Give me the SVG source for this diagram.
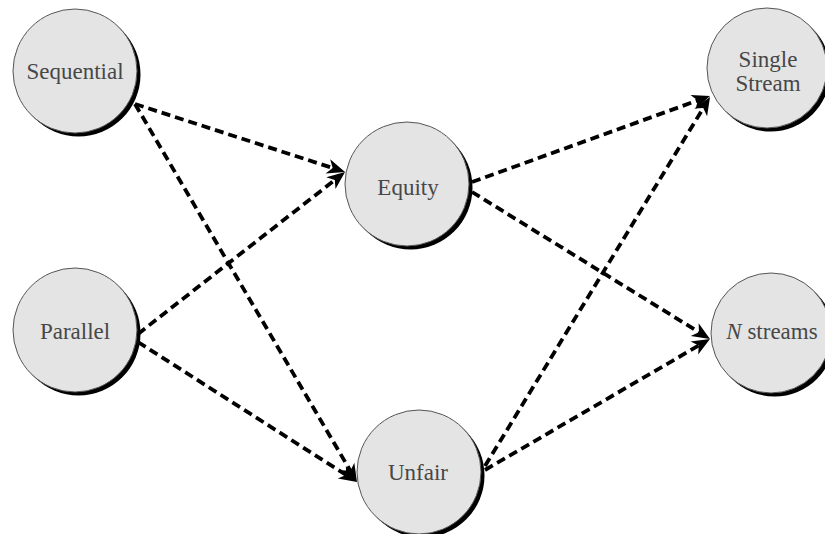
<svg xmlns="http://www.w3.org/2000/svg" width="825" height="534" viewBox="0 0 825 534">
<defs>
<style>
.shadow{fill:#000}
.node{fill:#e4e4e4;stroke:#555;stroke-width:1}
.label{font-family:"Liberation Serif","Times New Roman",serif;font-size:23px;fill:#474747;text-anchor:middle}
.edge{stroke:#000;stroke-width:3.8;stroke-dasharray:9 5;fill:none;marker-end:url(#arrow)}
</style>
<marker id="arrow" markerUnits="userSpaceOnUse" viewBox="-8 -9 21 18" markerWidth="21" markerHeight="18" refX="0" refY="0" orient="auto">
<path d="M12,0 L-6,-7.5 L-1,0 L-6,7.5 Z" fill="#000"/>
</marker>
</defs>
<rect width="825" height="534" fill="#fff"/>
<g id="connectors">
<line class="edge" x1="135" y1="104" x2="333.6" y2="168.3"/>
<line class="edge" x1="135" y1="104" x2="350.9" y2="471.7"/>
<line class="edge" x1="138" y1="334" x2="335.6" y2="179.4"/>
<line class="edge" x1="138" y1="342" x2="346.9" y2="475.5"/>
<line class="edge" x1="472" y1="182" x2="698.7" y2="100.1"/>
<line class="edge" x1="472" y1="192" x2="699.8" y2="332.7"/>
<line class="edge" x1="485" y1="466" x2="703.8" y2="107.2"/>
<line class="edge" x1="485" y1="470" x2="699.6" y2="345.0"/>
</g>
<g id="sequential">
<circle class="shadow" cx="78.5" cy="74.5" r="62"/>
<circle class="node" cx="75" cy="71" r="62"/>
<text class="label" x="75" y="79">Sequential</text>
</g>
<g id="parallel">
<circle class="shadow" cx="78.5" cy="333.5" r="62"/>
<circle class="node" cx="75" cy="330" r="62"/>
<text class="label" x="75" y="339">Parallel</text>
</g>
<g id="equity">
<circle class="shadow" cx="410.5" cy="187.5" r="62"/>
<circle class="node" cx="407" cy="184" r="62"/>
<text class="label" x="408" y="195">Equity</text>
</g>
<g id="unfair">
<circle class="shadow" cx="422.5" cy="475.5" r="62"/>
<circle class="node" cx="419" cy="472" r="62"/>
<text class="label" x="418" y="480">Unfair</text>
</g>
<g id="single-stream">
<circle class="shadow" cx="770.5" cy="71.5" r="60"/>
<circle class="node" cx="767" cy="68" r="60"/>
<text class="label" x="768" y="67">Single</text>
<text class="label" x="768" y="91">Stream</text>
</g>
<g id="n-streams">
<circle class="shadow" cx="774.5" cy="336.5" r="60"/>
<circle class="node" cx="771" cy="333" r="60"/>
<text class="label" x="772" y="339"><tspan font-style="italic">N</tspan> streams</text>
</g>
</svg>
